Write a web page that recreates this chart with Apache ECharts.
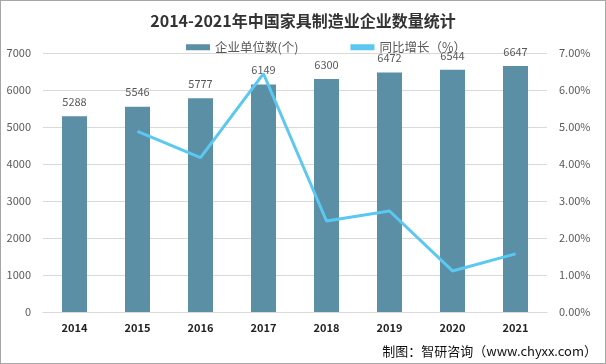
<!DOCTYPE html>
<html><head><meta charset="utf-8">
<script src="https://cdn.jsdelivr.net/npm/echarts@6/dist/echarts.min.js"></script>
<style>html,body{margin:0;padding:0;background:#fff}#c{width:606px;height:364px;box-sizing:border-box;border:1px solid #a6a6a6}</style>
</head><body><div id="c"></div>
<script>
const categories = ['2014','2015','2016','2017','2018','2019','2020','2021'];
const companyCount = [5288,5546,5777,6149,6300,6472,6544,6647];
const growthRate = [null,4.88,4.17,6.44,2.46,2.73,1.11,1.57];
const chart = echarts.init(document.getElementById('c'));
const ff = '"Microsoft YaHei","Noto Sans CJK SC",sans-serif';
chart.setOption({
  animation:false,
  textStyle:{fontFamily:ff},
  title:{text:'2014-2021年中国家具制造业企业数量统计',left:'center',top:7,
    textStyle:{fontSize:16,fontWeight:'bold',color:'#333',fontFamily:ff}},
  legend:{top:35,left:180,itemGap:52,itemWidth:24,itemHeight:6,
    textStyle:{fontSize:12.5,color:'#595959'},
    data:[{name:'企业单位数(个)',icon:'rect'},{name:'同比增长（%）',icon:'rect',itemStyle:{color:'#5bc8f2'}}]},
  grid:{left:42,right:58,top:52,bottom:51},
  xAxis:{type:'category',data:categories,
    axisLine:{lineStyle:{color:'#d9d9d9'}},axisTick:{show:false},
    axisLabel:{color:'#222',fontWeight:'bold',fontSize:11,margin:10}},
  yAxis:[{type:'value',min:0,max:7000,interval:1000,
      axisLine:{show:false},axisTick:{show:false},
      axisLabel:{color:'#595959',fontSize:11,margin:12,formatter:v=>String(v)},
      splitLine:{lineStyle:{color:'#d9d9d9'}}},
    {type:'value',min:0,max:7,interval:1,
      axisLine:{show:false},axisTick:{show:false},
      axisLabel:{color:'#595959',fontSize:11,margin:12,formatter:v=>v.toFixed(2)+'%'},
      splitLine:{show:false}}],
  series:[{name:'企业单位数(个)',type:'bar',data:companyCount,barWidth:25,
      itemStyle:{color:'#5b8fa6'},
      label:{show:true,position:'top',color:'#595959',fontSize:11,distance:9}},
    {name:'同比增长（%）',type:'line',yAxisIndex:1,data:growthRate,symbol:'none',
      lineStyle:{color:'#5bc8f2',width:3},itemStyle:{color:'#5bc8f2'},z:3}],
  graphic:[{type:'text',right:8,bottom:5,style:{text:'制图：智研咨询（www.chyxx.com）',
    fill:'#111',font:'13px '+ff}}]
});
</script></body></html>
